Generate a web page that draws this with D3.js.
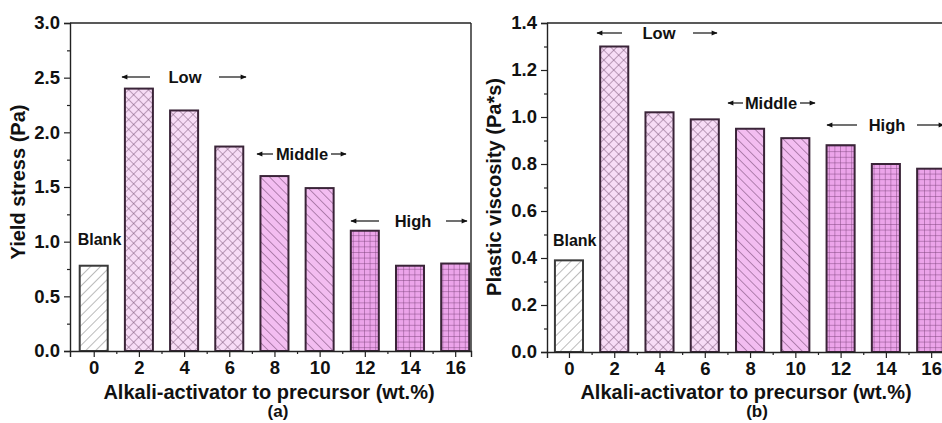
<!DOCTYPE html>
<html>
<head>
<meta charset="utf-8">
<script src="https://cdn.jsdelivr.net/npm/d3@7"></script>
<style>
  html, body { margin: 0; padding: 0; background: #fff; }
  svg { display: block; font-family: "Liberation Sans", Arial, sans-serif; font-weight: bold; }
</style>
</head>
<body>
<svg id="chart" width="942" height="423"></svg>
<script>
// Alkali-activator dosage (wt.%) and measured rheology
const dosages = [0, 2, 4, 6, 8, 10, 12, 14, 16];
const groups = ["blank", "low", "low", "low", "mid", "mid", "high", "high", "high"];
const yieldStress = [0.78, 2.40, 2.20, 1.87, 1.60, 1.49, 1.10, 0.78, 0.80];
const plasticViscosity = [0.39, 1.30, 1.02, 0.99, 0.95, 0.91, 0.88, 0.80, 0.78];
const yieldTicks = [0.0, 0.5, 1.0, 1.5, 2.0, 2.5, 3.0];
const viscTicks = [0.0, 0.2, 0.4, 0.6, 0.8, 1.0, 1.2, 1.4];
const xTicks = [0, 2, 4, 6, 8, 10, 12, 14, 16];

const svg = d3.select("#chart");
const defs = svg.append("defs");

// Hatch patterns for each dosage group
function pattern(id, size, fill, lines, stroke, sw, rot) {
  const p = defs.append("pattern").attr("id", id)
    .attr("patternUnits", "userSpaceOnUse")
    .attr("width", size).attr("height", size);
  if (rot) p.attr("patternTransform", `rotate(${rot})`);
  p.append("rect").attr("width", size).attr("height", size).attr("fill", fill);
  lines.forEach(l => p.append("line")
    .attr("x1", l[0]).attr("y1", l[1]).attr("x2", l[2]).attr("y2", l[3])
    .attr("stroke", stroke).attr("stroke-width", sw));
}
pattern("pat-blank", 7, "#ffffff", [[0, 0, 0, 7]], "#8e8e8e", 1.2, 45);
pattern("pat-low", 7, "#f7dcf6", [[0, 0, 0, 7], [0, 0, 7, 0]], "#6e4a6c", 0.9, 45);
pattern("pat-mid", 6.5, "#f3bdf1", [[0, 0, 0, 6.5]], "#6a3f68", 1.0, -45);
pattern("pat-high", 5.6, "#eca4ea", [[0, 0, 0, 5.6], [0, 0, 5.6, 0]], "#7a3f78", 0.9, 0);

const fills = { blank: "url(#pat-blank)", low: "url(#pat-low)", mid: "url(#pat-mid)", high: "url(#pat-high)" };

// Arrowhead marker for the range annotations
defs.append("marker").attr("id", "arrow")
  .attr("viewBox", "0 0 10 10").attr("refX", 9).attr("refY", 5)
  .attr("markerWidth", 8).attr("markerHeight", 6).attr("markerUnits", "userSpaceOnUse")
  .attr("orient", "auto")
  .append("path").attr("d", "M0,1 L10,5 L0,9 Z").attr("fill", "#111");

const FONT = "Liberation Sans, Arial, sans-serif";

function panel(cfg) {
  const g = svg.append("g");
  const x = d3.scaleLinear().domain(cfg.xDomain).range([cfg.left, cfg.right]);
  const y = d3.scaleLinear().domain([0, cfg.yMax]).range([cfg.bottom, cfg.top]);
  const unit = x(1) - x(0);
  const bw = 1.24 * unit;

  // bars
  g.selectAll("rect.bar").data(cfg.values).enter().append("rect")
    .attr("class", "bar")
    .attr("x", (d, i) => x(dosages[i]) - bw / 2)
    .attr("width", bw)
    .attr("y", d => y(d))
    .attr("height", d => y(0) - y(d))
    .attr("fill", (d, i) => fills[groups[i]])
    .attr("stroke", (d, i) => groups[i] === "blank" ? "#3a3a3a" : "#3a2438")
    .attr("stroke-width", 2);

  // frame (top & right)
  g.append("line").attr("x1", cfg.left).attr("x2", cfg.right).attr("y1", cfg.top).attr("y2", cfg.top)
    .attr("stroke", "#222").attr("stroke-width", 1.4);
  g.append("line").attr("x1", cfg.right).attr("x2", cfg.right).attr("y1", cfg.top).attr("y2", cfg.bottom)
    .attr("stroke", "#222").attr("stroke-width", 1.4);

  // y axis
  const yAxis = d3.axisLeft(y).tickValues(cfg.yTicks).tickFormat(d3.format(".1f")).tickSize(6).tickPadding(4);
  const ya = g.append("g").attr("transform", `translate(${cfg.left},0)`).call(yAxis);
  const yMinor = d3.axisLeft(y).tickValues(cfg.yMinor).tickFormat("").tickSize(3);
  g.append("g").attr("transform", `translate(${cfg.left},0)`).call(yMinor).select(".domain").remove();

  // x axis
  const xAxis = d3.axisBottom(x).tickValues(xTicks).tickFormat(d3.format("d")).tickSize(6).tickPadding(4);
  const xa = g.append("g").attr("transform", `translate(0,${cfg.bottom})`).call(xAxis);
  const minorX = xTicks.slice(0, -1).map(v => v + 1);
  const xMinor = d3.axisBottom(x).tickValues(minorX).tickFormat("").tickSize(3);
  g.append("g").attr("transform", `translate(0,${cfg.bottom})`).call(xMinor).select(".domain").remove();

  g.selectAll(".domain").attr("stroke", "#222").attr("stroke-width", 1.4);
  g.selectAll(".tick line").attr("stroke", "#222").attr("stroke-width", 1.2);
  [ya, xa].forEach(a => a.selectAll("text").attr("font-size", 18.5).attr("font-weight", "bold")
    .attr("fill", "#111").attr("font-family", FONT));

  // axis titles
  g.append("text").attr("transform", `translate(${cfg.yTitleX},${cfg.yTitleY}) rotate(-90)`)
    .attr("text-anchor", "middle").attr("font-size", 20).attr("fill", "#111").text(cfg.yTitle);
  g.append("text").attr("x", cfg.xTitleX).attr("y", 399)
    .attr("text-anchor", "middle").attr("font-size", 20).attr("fill", "#111")
    .text("Alkali-activator to precursor (wt.%)");
  g.append("text").attr("x", cfg.captionX).attr("y", 417)
    .attr("text-anchor", "middle").attr("font-size", 17).attr("fill", "#111").text(cfg.caption);

  // "Blank" label beside the reference bar
  g.append("text").attr("x", x(0) - bw / 2 - 2).attr("y", cfg.blankY)
    .attr("font-size", 16).attr("fill", "#111").text("Blank");

  // Range annotations
  cfg.ranges.forEach(r => {
    g.append("text").attr("x", r.tx).attr("y", r.y + 6)
      .attr("text-anchor", "middle").attr("font-size", r.fs).attr("fill", "#111").text(r.label);
    [[r.l1, r.l0], [r.r0, r.r1]].forEach(([a, b]) => {
      g.append("line").attr("x1", a).attr("x2", b).attr("y1", r.y).attr("y2", r.y)
        .attr("stroke", "#111").attr("stroke-width", 1.2).attr("marker-end", "url(#arrow)");
    });
  });
}

panel({
  values: yieldStress, yMax: 3.0, yTicks: yieldTicks,
  yMinor: d3.range(0.25, 3.0, 0.5),
  xDomain: [-1.05, 16.7], left: 70, right: 471, top: 23, bottom: 351,
  yTitle: "Yield stress (Pa)", yTitleX: 25, yTitleY: 182, xTitleX: 269, captionX: 278, caption: "(a)",
  blankY: 245,
  ranges: [
    { label: "Low", tx: 185, y: 77, fs: 16.5, l1: 150, l0: 122, r0: 219, r1: 246 },
    { label: "Middle", tx: 302, y: 154, fs: 16.5, l1: 273, l0: 257, r0: 331, r1: 346 },
    { label: "High", tx: 413, y: 221, fs: 16.5, l1: 379, l0: 351, r0: 446, r1: 467 }
  ]
});

panel({
  values: plasticViscosity, yMax: 1.4, yTicks: viscTicks,
  yMinor: d3.range(0.1, 1.4, 0.2),
  xDomain: [-0.97, 16.7], left: 547, right: 947, top: 23, bottom: 352,
  yTitle: "Plastic viscosity (Pa*s)", yTitleX: 501, yTitleY: 187, xTitleX: 746, captionX: 757, caption: "(b)",
  blankY: 246,
  ranges: [
    { label: "Low", tx: 659, y: 33, fs: 16.5, l1: 622, l0: 597, r0: 693, r1: 717 },
    { label: "Middle", tx: 771, y: 103, fs: 16.5, l1: 743, l0: 728, r0: 800, r1: 815 },
    { label: "High", tx: 887, y: 125, fs: 16.5, l1: 857, l0: 827, r0: 917, r1: 944 }
  ]
});
</script>
</body>
</html>
